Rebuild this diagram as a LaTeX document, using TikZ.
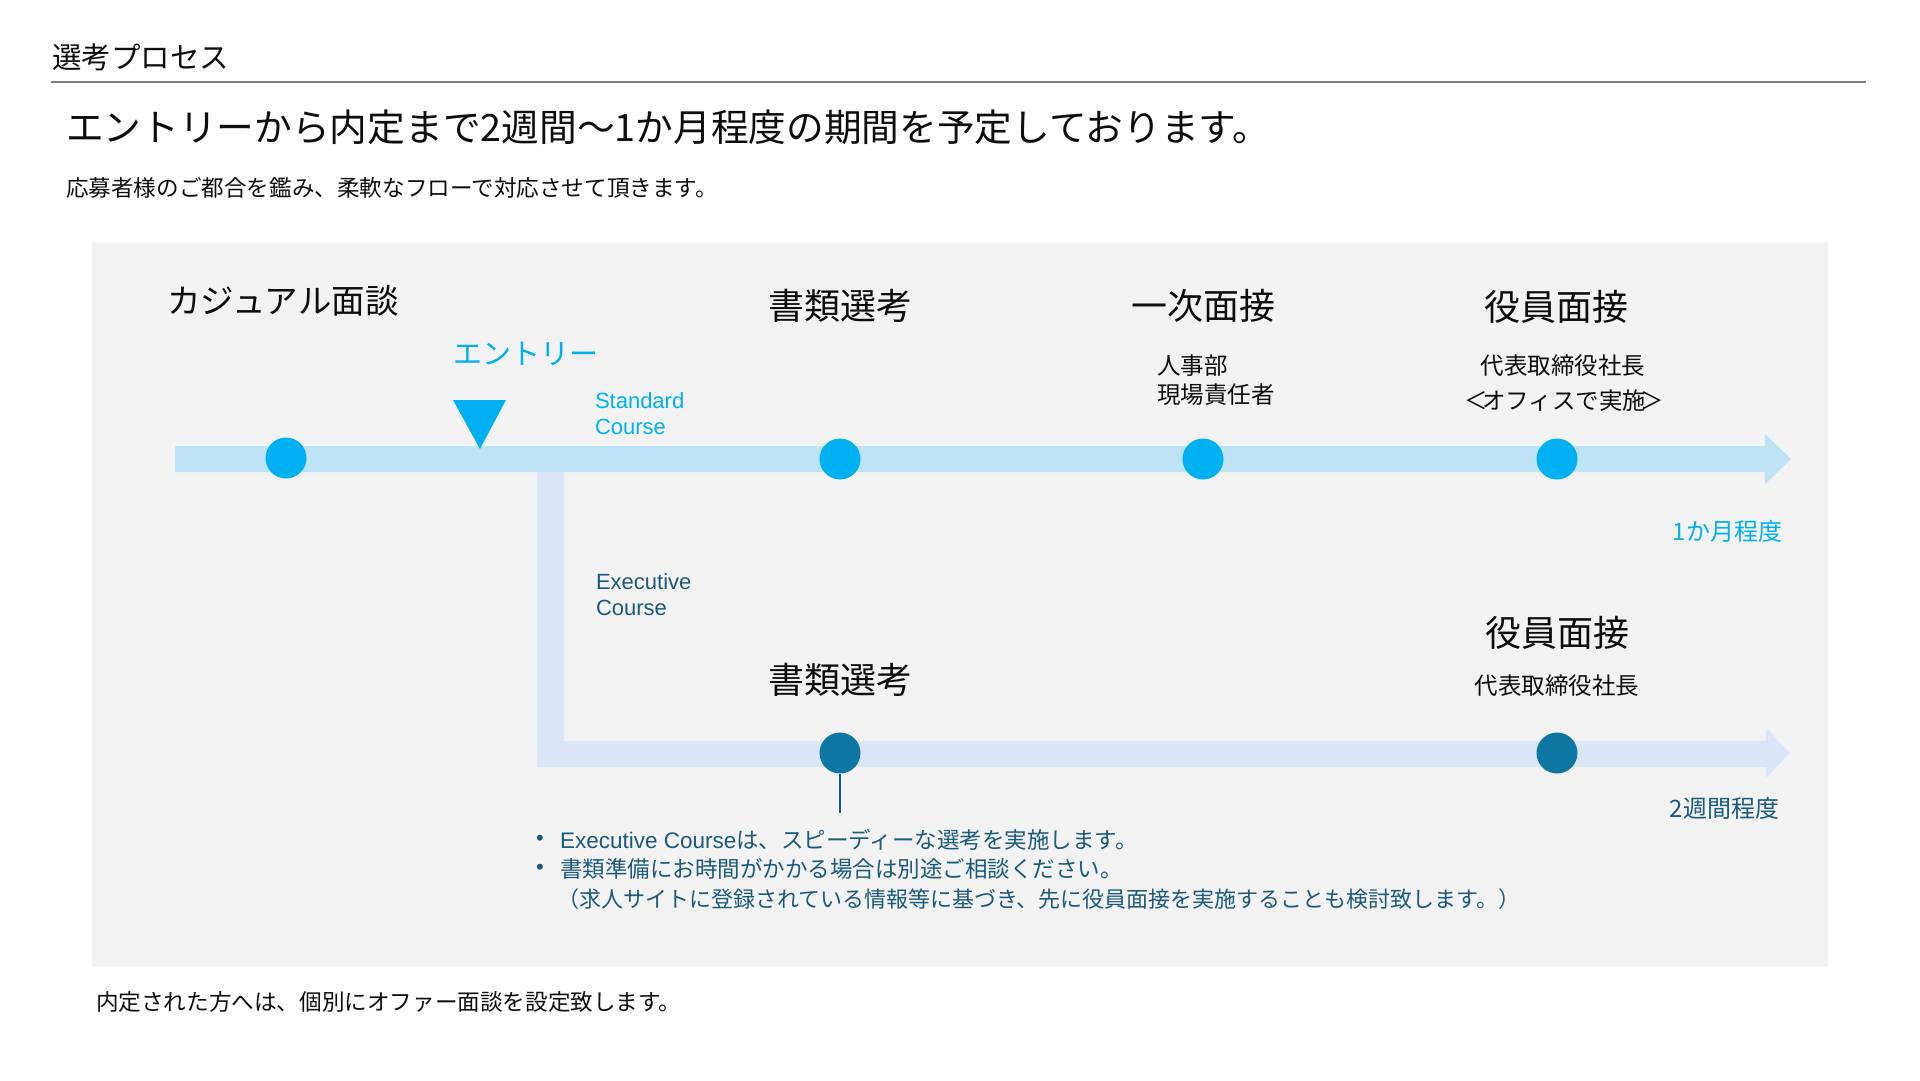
\documentclass[tikz,border=0pt]{standalone}
\usepackage{fontspec}
\setmainfont{Noto Sans CJK JP}
\newfontfamily\lat{Liberation Sans}
\definecolor{cyanc}{HTML}{00B0F0}
\definecolor{topbar}{HTML}{BDE3F5}
\definecolor{botbar}{HTML}{DAE6F8}
\definecolor{panelc}{HTML}{F2F2F2}
\definecolor{darkdot}{HTML}{0E76A3}
\definecolor{darktext}{HTML}{1B5A7A}
\definecolor{rulegray}{HTML}{7F7F7F}
\definecolor{ink}{HTML}{0D0D0D}
\begin{document}
\begin{tikzpicture}[x=1pt,y=-1pt,
  every node/.style={inner sep=0pt, outer sep=0pt},
  dotc/.style={circle, fill=cyanc, minimum size=41pt},
  dotd/.style={circle, fill=darkdot, minimum size=41pt},
  headtxt/.style={text=ink, font=\fontsize{36}{40}\selectfont},
  subtxt/.style={text=ink, font=\fontsize{23.5}{28}\selectfont},
  bodytxt/.style={text=ink, font=\fontsize{22.6}{26}\selectfont},
  bullettxt/.style={text=darktext, font=\fontsize{22.5}{26}\selectfont, anchor=west},
  coursetxt/.style={font=\lat\fontsize{22}{26}\selectfont, anchor=base west}]
\useasboundingbox (0,0) rectangle (1920,1080);

% header
\node[text=ink, font=\fontsize{29.5}{34}\selectfont, anchor=west] (title) at (52,57) {選考プロセス};
\coordinate (ruleL) at (51,82);
\coordinate (ruleR) at (1866,82);
\draw[rulegray, line width=1.5pt] (ruleL) -- (ruleR);
\node[text=ink, font=\fontsize{37.7}{42}\selectfont, anchor=west] (headline) at (66,127) {エントリーから内定まで2週間〜1か月程度の期間を予定しております。};
\node[bodytxt, anchor=west] (subline) at (66,188) {応募者様のご都合を鑑み、柔軟なフローで対応させて頂きます。};

% panel
\fill[panelc] (92,243) rectangle (1828,967);

% bars
\fill[topbar] (175,446) -- (1765,446) -- (1765,434) -- (1791,459) -- (1765,484) -- (1765,472) -- (175,472) -- cycle;
\fill[botbar] (537,472) -- (564,472) -- (564,741) -- (1766,741) -- (1766,728) -- (1790,753) -- (1766,778) -- (1766,767) -- (537,767) -- cycle;

% standard course dots
\node[dotc] (d1) at (286,458) {};
\node[dotc] (d2) at (840,459) {};
\node[dotc] (d3) at (1203,459) {};
\node[dotc] (d4) at (1557,459) {};

% entry marker
\fill[cyanc] (453,400) -- (506,400) -- (480,449) -- cycle;
\node[text=cyanc, font=\fontsize{29}{34}\selectfont, anchor=west] (entry) at (453,354) {エントリー};
\node[coursetxt, text=cyanc] (std1) at (595,408) {Standard};
\node[coursetxt, text=cyanc] (std2) at (595,434) {Course};

% headings
\node[headtxt, font=\fontsize{33.5}{38}\selectfont] (casual) at (283,301) {カジュアル面談};
\node[headtxt] (doc1) at (840,306) {書類選考};
\node[headtxt] (first) at (1203,306) {一次面接};
\node[headtxt] (exec1) at (1556,307) {役員面接};

% sub texts
\node[subtxt, anchor=west] (hr1) at (1157,366) {人事部};
\node[subtxt, anchor=west] (hr2) at (1157,395) {現場責任者};
\node[subtxt] (ceo1) at (1563,366) {代表取締役社長};
\node[subtxt] (office) at (1564,401) {＜\hspace{-6pt}オフィスで実施\hspace{-6pt}＞};
\node[text=cyanc, font=\fontsize{24}{28}\selectfont, anchor=east] (month) at (1782,531) {1か月程度};

% executive course
\node[coursetxt, text=darktext] (ex1) at (596,589) {Executive};
\node[coursetxt, text=darktext] (ex2) at (596,615) {Course};
\node[dotd] (e1) at (840,753) {};
\node[dotd] (e2) at (1557,753) {};
\node[headtxt] (doc2) at (840,680) {書類選考};
\node[headtxt] (exec2) at (1557,633) {役員面接};
\node[subtxt] (ceo2) at (1557,686) {代表取締役社長};
\node[text=darktext, font=\fontsize{24}{28}\selectfont, anchor=east] (weeks) at (1779,808) {2週間程度};
\coordinate (tickend) at (840,813);
\draw[darktext, line width=2pt] (e1.south) -- (tickend);

% bullets
\node[text=darktext, font=\lat\fontsize{22}{26}\selectfont] (b1) at (540,840) {•};
\node[text=darktext, font=\lat\fontsize{22}{26}\selectfont] (b2) at (540,869) {•};
\node[bullettxt] (l1) at (560,840) {{\lat Executive Course}は、スピーディーな選考を実施します。};
\node[bullettxt] (l2) at (560,869) {書類準備にお時間がかかる場合は別途ご相談ください。};
\node[bullettxt, font=\fontsize{22}{26}\selectfont] (l3) at (557,899) {（求人サイトに登録されている情報等に基づき、先に役員面接を実施することも検討致します。）};

% footer
\node[bodytxt, anchor=west] (footer) at (96,1002) {内定された方へは、個別にオファー面談を設定致します。};
\end{tikzpicture}
\end{document}
